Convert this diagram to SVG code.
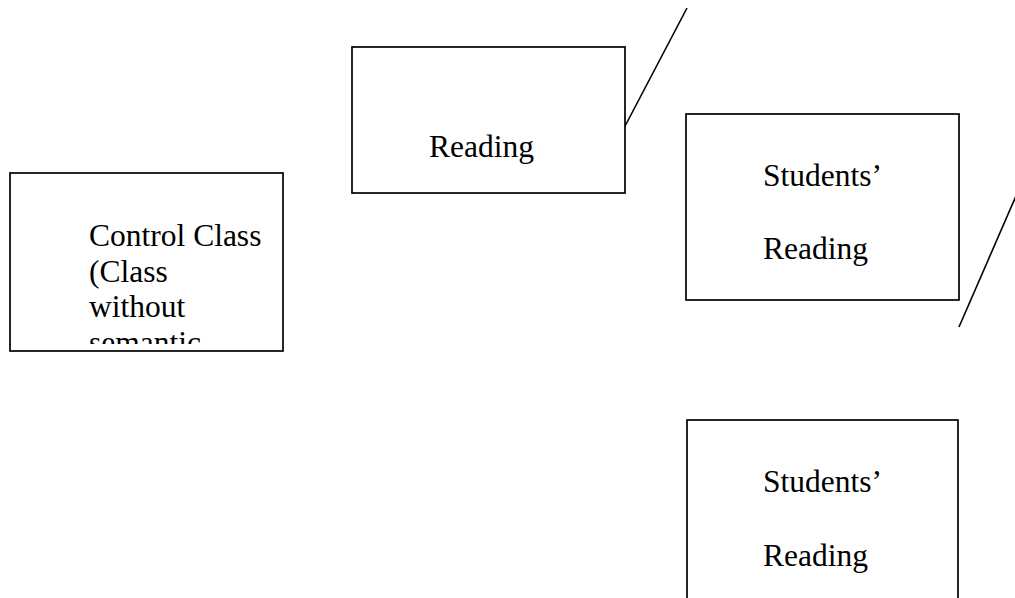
<svg xmlns="http://www.w3.org/2000/svg" width="1015" height="598" viewBox="0 0 1015 598">
<style>
.box{fill:#fff;stroke:#000;stroke-width:1.7}
.t{font-family:"Liberation Serif","Times New Roman",serif;font-size:31.5px;fill:#000}
.ln{stroke:#000;stroke-width:1.6;fill:none}
</style>
<defs>
<clipPath id="cc"><rect x="11" y="174" width="271" height="170"/></clipPath>
</defs>
<rect width="1015" height="598" fill="#fff"/>
<g id="connectors">
<line class="ln" x1="623" y1="130" x2="687" y2="8"/>
<line class="ln" x1="959" y1="327" x2="1016" y2="196"/>
</g>
<g id="control">
<rect class="box" x="10" y="173" width="273" height="178"/>
<g clip-path="url(#cc)">
<text class="t" x="89" y="246">Control Class</text>
<text class="t" x="89" y="282">(Class</text>
<text class="t" x="89" y="317">without</text>
<text class="t" x="89" y="353">semantic</text>
</g>
</g>
<g id="reading">
<rect class="box" x="352" y="47" width="273" height="146"/>
<text class="t" x="429" y="157">Reading</text>
</g>
<g id="students1">
<rect class="box" x="686" y="114" width="273" height="186"/>
<text class="t" x="763" y="186">Students’</text>
<text class="t" x="763" y="259">Reading</text>
</g>
<g id="students2">
<rect class="box" x="687" y="420" width="271" height="190"/>
<text class="t" x="763" y="492">Students’</text>
<text class="t" x="763" y="566">Reading</text>
</g>
</svg>
